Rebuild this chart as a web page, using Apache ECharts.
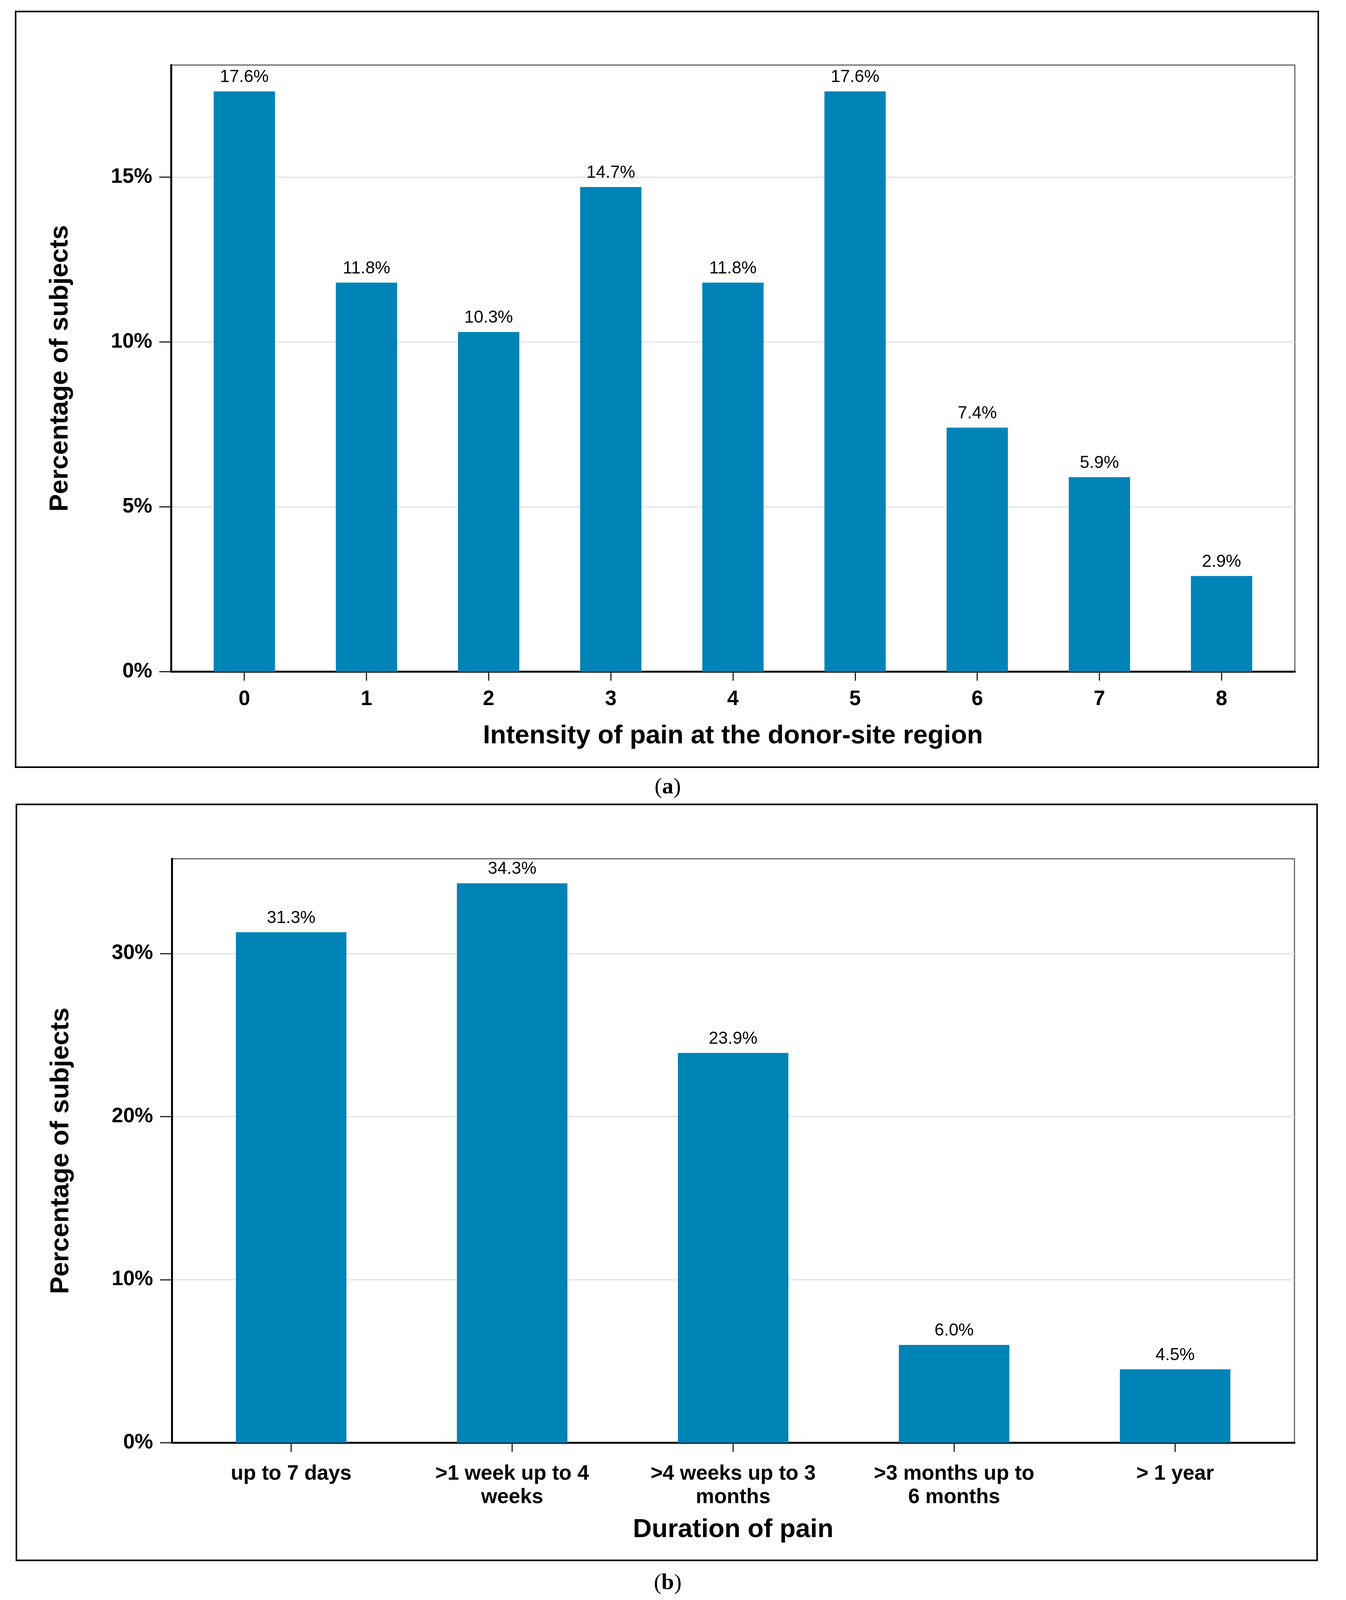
<!DOCTYPE html>
<html>
<head>
<meta charset="utf-8">
<script src="https://cdn.jsdelivr.net/npm/echarts@6/dist/echarts.min.js"></script>
<style>
html,body{margin:0;padding:0;background:#fff;overflow:hidden;}
#chart{position:absolute;left:0;top:0;}
</style>
</head>
<body>
<div id="chart"></div>
<script>
// ---- Data ----
const intensityCategories = ['0','1','2','3','4','5','6','7','8'];
const intensityValues = [17.6, 11.8, 10.3, 14.7, 11.8, 17.6, 7.4, 5.9, 2.9];
const intensityTicks = [0, 5, 10, 15];

const durationCategories = ['up to 7 days', '>1 week up to 4\nweeks', '>4 weeks up to 3\nmonths', '>3 months up to\n6 months', '> 1 year'];
const durationValues = [31.3, 34.3, 23.9, 6.0, 4.5];
const durationTicks = [0, 10, 20, 30];

// ---- Layout (designed for 3447 x 5291, scaled to the actual window) ----
const W = window.innerWidth || 3447;
const H = window.innerHeight || 5291;
const SX = W / 3447, SY = H / 5291, FS = Math.sqrt(SX * SY);
const X = v => v * SX, Y = v => v * SY, F = v => Math.round(v * FS);

const el = document.getElementById('chart');
el.style.width = W + 'px';
el.style.height = H + 'px';

const FONT = '"Liberation Sans", Arial, sans-serif';
const BAR = '#0083b7';

function xAxisFor(gridIndex, cats, min, max, margin, lineHeight, name, nameGap) {
  const idx = cats.map((c, i) => i);
  return {
    type: 'value', gridIndex: gridIndex, min: min, max: max,
    axisLine: {show: true, onZero: false, lineStyle: {color: '#000', width: 5}},
    axisTick: {show: true, length: Y(30), customValues: idx, lineStyle: {color: '#222', width: 3}},
    axisLabel: {customValues: idx, margin: Y(margin), color: '#000', fontFamily: FONT, fontWeight: 'bold', fontSize: F(60), lineHeight: F(lineHeight),
      formatter: v => cats[Math.round(v)]},
    splitLine: {show: false},
    name: name, nameLocation: 'middle', nameGap: Y(nameGap),
    nameTextStyle: {color: '#000', fontFamily: FONT, fontWeight: 'bold', fontSize: F(76)}
  };
}
function yAxisFor(gridIndex, max, ticks) {
  return {
    type: 'value', gridIndex: gridIndex, min: 0, max: max,
    axisLine: {show: true, onZero: false, lineStyle: {color: '#000', width: 5}},
    axisTick: {show: true, length: X(30), customValues: ticks, lineStyle: {color: '#222', width: 3}},
    axisLabel: {customValues: ticks, margin: X(48), color: '#000', fontFamily: FONT, fontWeight: 'bold', fontSize: F(60), formatter: '{value}%'},
    splitLine: {show: true, lineStyle: {color: '#e2e2e2', width: 3}},
    name: 'Percentage of subjects', nameLocation: 'middle', nameGap: X(250), nameRotate: 90,
    nameTextStyle: {color: '#000', fontFamily: FONT, fontWeight: 'bold', fontSize: F(76)}
  };
}
function barSeries(i, cats, vals, width) {
  return {
    type: 'bar', xAxisIndex: i, yAxisIndex: i, barWidth: X(width),
    itemStyle: {color: BAR},
    label: {show: true, position: 'top', distance: Y(18), color: '#000', fontFamily: FONT, fontSize: F(50),
      formatter: p => p.value[1].toFixed(1) + '%'},
    data: cats.map((c, k) => [k, vals[k]])
  };
}
function caption(letter, cx, cy) {
  return {type: 'text', x: X(cx), y: Y(cy), style: {text: '({b|' + letter + '})', align: 'center', verticalAlign: 'middle', fill: '#000',
    font: F(66) + 'px "Liberation Serif", "Times New Roman", serif',
    rich: {b: {fontWeight: 'bold', fontSize: F(66), fontFamily: '"Liberation Serif", "Times New Roman", serif'}}}};
}

const chart = echarts.init(el, null, {renderer: 'canvas', width: W, height: H});
chart.setOption({
  backgroundColor: '#fff',
  animation: false,
  grid: [
    {left: X(438), top: Y(215), width: X(2878), height: Y(2006), show: true, borderColor: '#666', borderWidth: 3, backgroundColor: 'transparent'},
    {left: X(440), top: Y(2840), width: X(2875), height: Y(1931), show: true, borderColor: '#666', borderWidth: 3, backgroundColor: 'transparent'}
  ],
  xAxis: [
    xAxisFor(0, intensityCategories, -0.6, 8.6, 58, 60, 'Intensity of pain at the donor-site region', 170),
    xAxisFor(1, durationCategories, -0.54, 4.54, 64, 68, 'Duration of pain', 245)
  ],
  yAxis: [
    yAxisFor(0, 18.4, intensityTicks),
    yAxisFor(1, 35.8, durationTicks)
  ],
  series: [
    barSeries(0, intensityCategories, intensityValues, 157),
    barSeries(1, durationCategories, durationValues, 283)
  ],
  graphic: [
    {type: 'rect', shape: {x: X(40), y: Y(38), width: X(3336), height: Y(2499)}, style: {fill: null, stroke: '#000', lineWidth: 4}, silent: true},
    {type: 'rect', shape: {x: X(42), y: Y(2660), width: X(3331), height: Y(2500)}, style: {fill: null, stroke: '#000', lineWidth: 4}, silent: true},
    caption('a', 1710, 2604),
    caption('b', 1710, 5236)
  ]
});
</script>
</body>
</html>
